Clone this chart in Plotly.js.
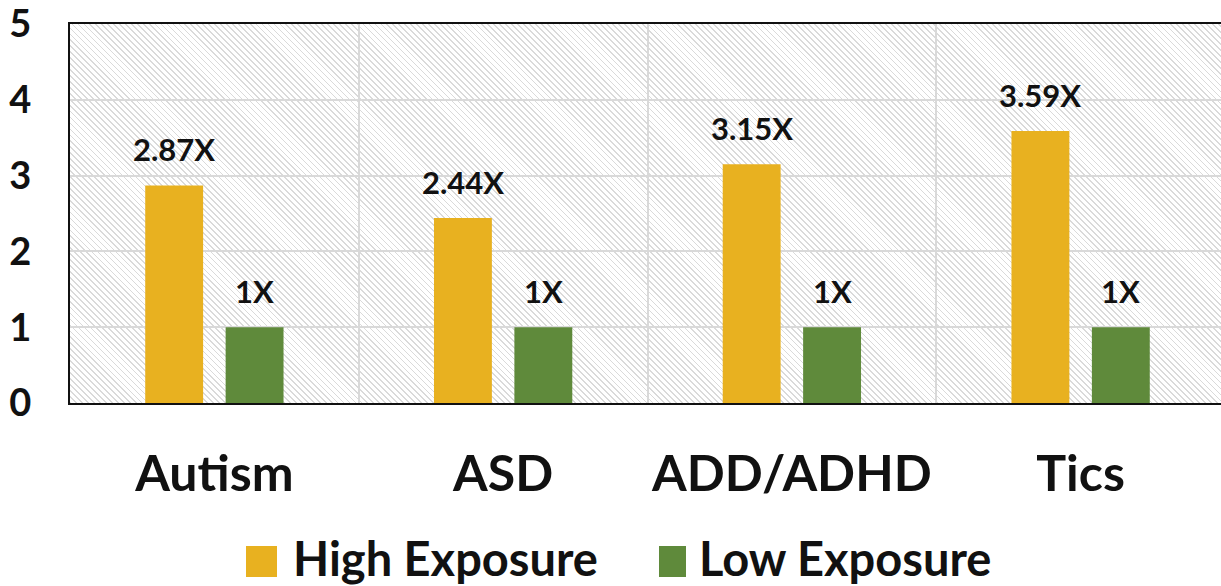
<!DOCTYPE html>
<html>
<head>
<meta charset="utf-8">
<script src="https://cdn.plot.ly/plotly-3.0.1.min.js"></script>
<style>
  html, body { margin: 0; padding: 0; background: #ffffff; overflow: hidden; width: 1221px; height: 586px; }
  #wrap { position: relative; width: 1225px; height: 586px; }
  #hatch {
    position: absolute; left: 70px; top: 24px; width: 1155px; height: 379px;
    background: repeating-linear-gradient(45deg, #dadada 0px, #dadada 1.2px, #ffffff 1.2px, #ffffff 4.2px);
  }
  #chart { position: absolute; left: 0; top: 0; width: 1225px; height: 586px; }
</style>
</head>
<body>
<div id="wrap">
  <div id="hatch"></div>
  <div id="chart"></div>
</div>
<script>
// ---- data ----
const categories = ["Autism", "ASD", "ADD/ADHD", "Tics"];
const highExposure = [2.87, 2.44, 3.15, 3.59];
const lowExposure = [1, 1, 1, 1];
const seriesNames = ["High Exposure", "Low Exposure"];
const seriesColors = ["#E8B120", "#5F8A3B"];
const yTicks = [0, 1, 2, 3, 4, 5];

// ---- layout constants ----
const W = 1225, H = 586;
const M = { l: 70, r: 0, t: 24, b: 183 };
const plotW = W - M.l - M.r, plotH = H - M.t - M.b;
const FONT = "Lato, 'Open Sans', sans-serif";
const BARGAP = 0.443, GROUPGAP = 0.28;
const slotPx = (plotW / categories.length) * (1 - BARGAP) / 2;

const px2x = p => (p - M.l) / plotW;
const px2y = p => (M.t + plotH - p) / plotH;

const series = [highExposure, lowExposure];
const traces = series.map((vals, i) => ({
  type: "bar",
  x: categories,
  y: vals,
  name: seriesNames[i],
  marker: { color: seriesColors[i] },
  showlegend: false,
  hoverinfo: "x+y"
}));

const annotations = [];
series.forEach((vals, i) => {
  vals.forEach((v, j) => {
    annotations.push({
      x: categories[j], y: v, xref: "x", yref: "y",
      text: v + "X", showarrow: false,
      xanchor: "center", yanchor: "bottom",
      xshift: (i === 0 ? -1 : 1) * slotPx / 2, yshift: 15,
      font: { family: FONT, size: 31, color: "#111111", weight: 700 }
    });
  });
});

// custom legend (large square swatches)
const legendSq = [[246, 277], [659, 686]];
const legendTextX = [291, 697];
const shapes = [];
seriesNames.forEach((nm, i) => {
  shapes.push({
    type: "rect", xref: "paper", yref: "paper",
    x0: px2x(legendSq[i][0]), x1: px2x(legendSq[i][1]),
    y0: px2y(577), y1: px2y(546),
    fillcolor: seriesColors[i], line: { width: 0 }
  });
  annotations.push({
    xref: "paper", yref: "paper",
    x: px2x(legendTextX[i]), y: px2y(558),
    xanchor: "left", yanchor: "middle",
    text: nm, showarrow: false,
    font: { family: FONT, size: 47, color: "#111111", weight: 700 }
  });
});

const layout = {
  width: W, height: H,
  margin: M,
  paper_bgcolor: "rgba(0,0,0,0)",
  plot_bgcolor: "rgba(0,0,0,0)",
  barmode: "group",
  bargap: BARGAP,
  bargroupgap: GROUPGAP,
  showlegend: false,
  xaxis: {
    type: "category",
    tickson: "boundaries",
    showgrid: true, gridcolor: "#d9d9d9", gridwidth: 2,
    showline: true, linecolor: "#111111", linewidth: 2, mirror: true,
    ticks: "", ticklabelstandoff: 26,
    tickfont: { family: FONT, size: 50, color: "#111111", weight: 700 },
    range: [-0.5, categories.length - 0.5],
    fixedrange: true
  },
  yaxis: {
    range: [0, 5],
    tickvals: yTicks,
    showgrid: true, gridcolor: "#d9d9d9", gridwidth: 2,
    zeroline: false,
    showline: true, linecolor: "#111111", linewidth: 2, mirror: true,
    ticks: "", ticklabelstandoff: 29,
    ticklabeloverflow: "allow",
    tickfont: { family: FONT, size: 38, color: "#111111", weight: 700 },
    fixedrange: true
  },
  annotations: annotations,
  shapes: shapes
};

Plotly.newPlot("chart", traces, layout, { displayModeBar: false, staticPlot: true });
</script>
</body>
</html>
